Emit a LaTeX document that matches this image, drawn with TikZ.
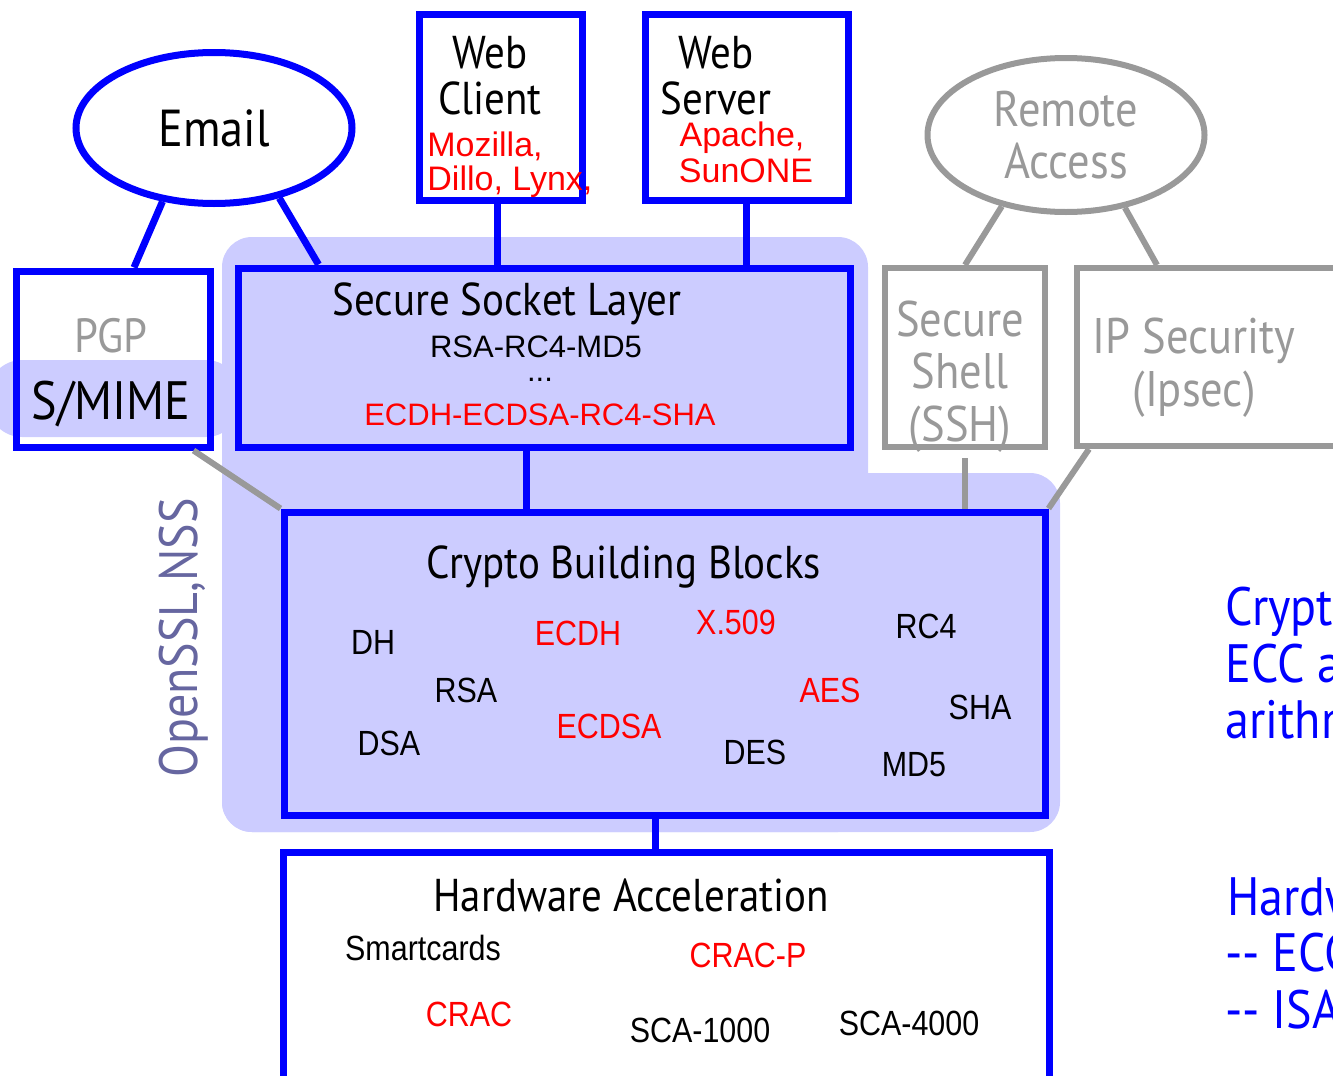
\documentclass[tikz,border=0pt]{standalone}
\usepackage{fontspec}
\setmainfont[FakeStretch=0.89]{PT Sans}
\newfontfamily\arialfont{Liberation Sans}
\newfontfamily\narrowfont[FakeStretch=0.87]{Liberation Sans}
\usetikzlibrary{shapes.geometric,positioning}

\definecolor{lavender}{RGB}{204,204,255}
\definecolor{linegray}{RGB}{153,153,153}
\definecolor{slate}{RGB}{102,102,160}

\tikzset{
    bluebox/.style={draw=blue, line width=3.5pt, inner sep=0pt},
    graybox/.style={draw=linegray, line width=3pt, inner sep=0pt},
    bluelink/.style={draw=blue, line width=3.5pt},
    graylink/.style={draw=linegray, line width=3pt},
    headtext/.style={font=\fontsize{23}{23}\selectfont, inner sep=0pt, anchor=base},
    algotext/.style={font=\arialfont\fontsize{15.5}{15.5}\selectfont, inner sep=0pt, anchor=base},
    parttext/.style={font=\narrowfont\fontsize{17.5}{17.5}\selectfont, inner sep=0pt, anchor=base},
    notetext/.style={font=\fontsize{27}{27}\selectfont, text=blue, inner sep=0pt, anchor=base west}
}

\begin{document}
\begin{tikzpicture}[x=0.5pt, y=-0.5pt]
            \useasboundingbox (0,0) rectangle (1333,1076);
            \fill[lavender, rounded corners=15pt] (222,237) rectangle (868,832);
            \fill[lavender, rounded corners=15pt] (222,473) rectangle (1060,832);
            \fill[lavender, rounded corners=17pt] (-12,360) rectangle (240,437);

            \node[bluebox, ellipse, minimum width=138pt, minimum height=75.5pt, font=\fontsize{26}{26}\selectfont] (email) at (214,128) {Email};
            \node[bluebox, minimum width=97pt, minimum height=88pt] (pgp) at (113,359) {};
            \node[bluebox, minimum width=81.5pt, minimum height=93pt] (wclient) at (500.5,107) {};
            \node[bluebox, minimum width=101.5pt, minimum height=93pt] (wserver) at (746.5,107) {};
            \node[bluebox, minimum width=306pt, minimum height=89.5pt] (ssl) at (544,357.5) {};
            \node[graybox, ellipse, minimum width=138.5pt, minimum height=77pt, text=linegray, align=center, font=\fontsize{25}{26}\selectfont] (remote) at (1066,135) {Remote\\Access};
            \node[graybox, minimum width=80pt, minimum height=89.5pt] (ssh) at (965,357.5) {};
            \node[graybox, minimum width=141.5pt, minimum height=89pt] (ipsec) at (1218.5,357) {};
            \node[bluebox, minimum width=380.5pt, minimum height=151.5pt] (crypto) at (664.5,663.5) {};
            \node[bluebox, minimum width=383pt, minimum height=124pt] (hw) at (666,976) {};

            \node[headtext, text=linegray, font=\fontsize{24}{24}\selectfont] (pgptext) at (111,352) {PGP};
            \node[headtext, font=\fontsize{27}{27}\selectfont] (smime) at (111,419) {S/MIME};

            \node[headtext] (wcweb) at (490,68) {Web};
            \node[headtext] (wcclient) at (490,114) {Client};
            \node[algotext, text=red, font=\arialfont\fontsize{17}{17}\selectfont, anchor=base west] (mozilla) at (427,156) {Mozilla,};
            \node[algotext, text=red, font=\arialfont\fontsize{17}{17}\selectfont, anchor=base west] (dillo) at (427,190) {Dillo, Lynx,};
            \node[headtext] (wsweb) at (716,68) {Web};
            \node[headtext] (wsserver) at (716,114) {Server};
            \node[algotext, text=red, font=\arialfont\fontsize{17}{17}\selectfont] (apache) at (742,146) {Apache,};
            \node[algotext, text=red, font=\arialfont\fontsize{17}{17}\selectfont] (sunone) at (746,182) {SunONE};

            \node[headtext] (ssltitle) at (507,315) {Secure Socket Layer};
            \node[algotext] (suite1) at (536,357) {RSA-RC4-MD5};
            \node[algotext] (dots) at (540,381) {...};
            \node[algotext, text=red] (suite2) at (540,425) {ECDH-ECDSA-RC4-SHA};

            \node[headtext, text=linegray, font=\fontsize{25}{25}\selectfont] (sshsecure) at (960,336) {Secure};
            \node[headtext, text=linegray, font=\fontsize{25}{25}\selectfont] (sshshell) at (960,388) {Shell};
            \node[headtext, text=linegray, font=\fontsize{25}{25}\selectfont] (sshabbr) at (960,441) {(SSH)};
            \node[headtext, text=linegray, font=\fontsize{25}{25}\selectfont] (ipsecname) at (1194,353) {IP Security};
            \node[headtext, text=linegray, font=\fontsize{25}{25}\selectfont] (ipsecabbr) at (1194,406) {(Ipsec)};

            \node[headtext] (cryptotitle) at (624,578) {Crypto Building Blocks};
            \node[parttext] (dh) at (373,654) {DH};
            \node[parttext, text=red] (ecdh) at (578,645) {ECDH};
            \node[parttext, text=red] (x509) at (736,634) {X.509};
            \node[parttext] (rcfour) at (926,638) {RC4};
            \node[parttext] (rsa) at (466,702) {RSA};
            \node[parttext, text=red] (aes) at (830,702) {AES};
            \node[parttext] (sha) at (980,719) {SHA};
            \node[parttext] (dsa) at (389,755) {DSA};
            \node[parttext, text=red] (ecdsa) at (609,738) {ECDSA};
            \node[parttext] (des) at (755,764) {DES};
            \node[parttext] (mdfive) at (914,776) {MD5};

            \node[headtext] (hwtitle) at (631,911) {Hardware Acceleration};
            \node[parttext] (smartcards) at (423,960) {Smartcards};
            \node[parttext, text=red] (cracp) at (748,967) {CRAC-P};
            \node[parttext, text=red] (crac) at (469,1026) {CRAC};
            \node[parttext] (scaone) at (700,1042) {SCA-1000};
            \node[parttext] (scafour) at (909,1035) {SCA-4000};

            \node[headtext, rotate=90, text=slate, font=\fontsize{27}{27}\selectfont] (openssl) at (197,638) {OpenSSL,NSS};

            \node[notetext] (notecrypto) at (1225,625) {Crypto};
            \node[notetext] (noteecc) at (1225,682) {ECC and};
            \node[notetext] (notearith) at (1225,738) {arithmetic};
            \node[notetext] (notehw) at (1227,915) {Hardware};
            \node[notetext] (noteeccunit) at (1225,971) {-{}- ECC};
            \node[notetext] (noteisa) at (1225,1028) {-{}- ISA};

            \draw[bluelink] (email.235) -- ([xshift=10.5pt]pgp.north);
            \draw[bluelink] (email.313) -- ([xshift=42pt]ssl.north west);
            \draw[bluelink] ([xshift=-1.5pt]wclient.south) -- ([xshift=-1.5pt]wclient.south |- ssl.north);
            \draw[bluelink] (wserver.south) -- (wserver.south |- ssl.north);
            \draw[bluelink] ([xshift=-9pt]ssl.south) -- ([xshift=-69.25pt]crypto.north);
            \draw[bluelink] ([xshift=-4.75pt]crypto.south) -- ([xshift=-5.5pt]hw.north);
            \draw[graylink] (remote.228) -- (ssh.north);
            \draw[graylink] (remote.309) -- ([xshift=41.5pt]ipsec.north west);
            \draw[graylink, shorten <=4pt] (ssh.south) -- (ssh.south |- crypto.north);
            \draw[graylink] ([xshift=7.5pt]ipsec.south west) -- (crypto.north east);
            \draw[graylink] ([xshift=-10pt]pgp.south east) -- (crypto.north west);
\end{tikzpicture}
\end{document}
